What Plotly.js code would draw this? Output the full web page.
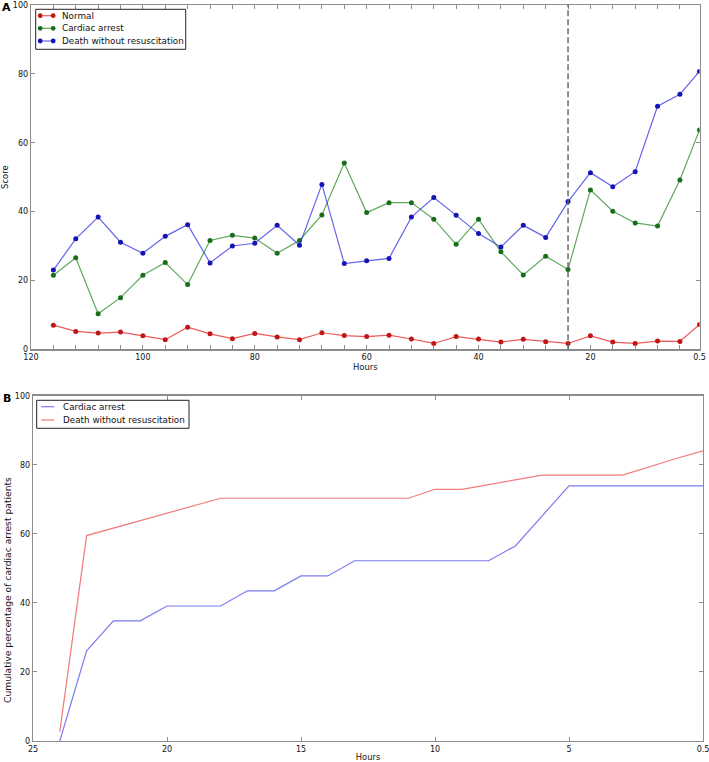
<!DOCTYPE html>
<html><head><meta charset="utf-8">
<script src="https://cdn.plot.ly/plotly-3.0.1.min.js"></script>
<style>html,body{margin:0;padding:0;background:#fff}#chart{width:709px;height:762px}</style>
</head><body><div id="chart"></div>
<script>
// ---------- Panel A data ----------
const hoursA = [116,112,108,104,100,96,92,88,84,80,76,72,68,64,60,56,52,48,44,40,36,32,28,24,20,16,12,8,4,0.5];
const normalScore = [7.0,5.2,4.7,5.0,3.9,2.8,6.4,4.5,3.1,4.6,3.6,2.8,4.8,4.0,3.7,4.1,3.0,1.7,3.7,3.0,2.1,2.9,2.2,1.7,3.9,2.1,1.7,2.4,2.3,7.2];
const arrestScore = [21.5,26.6,10.3,15.0,21.5,25.2,18.8,31.6,33.1,32.3,27.9,31.6,39.0,54.1,39.7,42.6,42.6,37.8,30.5,37.8,28.3,21.6,27.0,23.2,46.3,40.1,36.7,35.8,49.2,63.7];
const deathScore = [23.0,32.1,38.4,31.1,27.9,32.8,36.2,25.1,30.0,30.8,36.0,30.2,47.9,24.9,25.7,26.4,38.4,44.1,38.9,33.6,29.7,36.0,32.5,42.9,51.3,47.2,51.6,70.6,74.1,80.7];
const seriesNamesA = ['Normal','Cardiac arrest','Death without resuscitation'];
const cutoffHour = 24;
const xLabeledA = [120,100,80,60,40,20,0.5];

// ---------- Panel B data ----------
const hoursArrestB = [24,23,22,21,20,18,17,16,15,14,13,8,7,5,0];
const pctArrestB   = [0,26.1,34.8,34.8,39.1,39.1,43.5,43.5,47.8,47.8,52.2,52.2,56.5,73.9,73.9];
const hoursDeathB  = [24,23,18,11,10,9,6,3,1,0];
const pctDeathB    = [2.7,59.5,70.3,70.3,72.9,72.9,77.0,77.0,81.8,84.0];
const seriesNamesB = ['Cardiac arrest','Death without resuscitation'];
const xTickValsB = [25,20,15,10,5,0];
const xTickTextB = ['25','20','15','10','5','0.5'];
const yTicks = [0,20,40,60,80,100];
const yTitleB = 'Cumulative percentage of cardiac arrest patients';

// ---------- styles ----------
const W = 709, H = 762;
const px = v => v / W, py = v => 1 - v / H;
const FONT = 'DejaVu Sans, sans-serif';
const lineColA = ['rgba(230,50,50,0.8)','rgba(40,140,40,0.75)','rgba(50,50,230,0.75)'];
const mkColA = ['#c01616','#1a6e1a','#1414b4'];
const lineColB = ['#7b7bf0','#f07b7b'];

const tickValsA = [120].concat(hoursA);
const tickTextA = tickValsA.map(v => xLabeledA.includes(v) ? String(v) : '');

const ysA = [normalScore, arrestScore, deathScore];
const traces = ysA.map((ys, i) => ({
  x: hoursA, y: ys, type: 'scatter', mode: 'lines+markers', name: seriesNamesA[i],
  line: {color: lineColA[i], width: 1.2},
  marker: {color: mkColA[i], size: 5},
  xaxis: 'x', yaxis: 'y', showlegend: false
}));
traces.push({x: hoursArrestB, y: pctArrestB, type: 'scatter', mode: 'lines', name: seriesNamesB[0],
  line: {color: lineColB[0], width: 1.2}, xaxis: 'x2', yaxis: 'y2', showlegend: false});
traces.push({x: hoursDeathB, y: pctDeathB, type: 'scatter', mode: 'lines', name: seriesNamesB[1],
  line: {color: lineColB[1], width: 1.2}, xaxis: 'x2', yaxis: 'y2', showlegend: false});

const axBase = {
  showline: true, linecolor: '#8c8c8c', linewidth: 1.3, mirror: 'ticks',
  ticks: 'inside', ticklen: 4, tickwidth: 1, tickcolor: '#8c8c8c', ticklabeloverflow: 'allow',
  showgrid: false, zeroline: false, tickfont: {family: FONT, size: 8, color: '#111'}
};
const titleFont = {family: FONT, size: 8.4, color: '#111'};

const shapes = [];
const annotations = [];
// cutoff dashed line
shapes.push({type: 'line', xref: 'x', yref: 'y domain', x0: cutoffHour, x1: cutoffHour, y0: 0, y1: 1,
  line: {color: '#606060', width: 1.4, dash: '6px,3px'}});

// manual legends (matplotlib style)
function legend(box, names, cols, mcols, rowY) {
  shapes.push({type: 'rect', xref: 'paper', yref: 'paper', x0: px(box[0]), x1: px(box[1]), y0: py(box[3]), y1: py(box[2]),
    line: {color: '#222', width: 1}, fillcolor: 'white', layer: 'above'});
  names.forEach((n, i) => {
    const yy = rowY[i];
    shapes.push({type: 'line', xref: 'paper', yref: 'paper', x0: px(box[0] + 4.5), x1: px(box[0] + 17.5), y0: py(yy), y1: py(yy),
      line: {color: cols[i], width: 1.2}, layer: 'above'});
    if (mcols) {
      [box[0] + 4.5, box[0] + 17.5].forEach(cx => shapes.push({type: 'circle', xref: 'paper', yref: 'paper',
        x0: px(cx - 2.4), x1: px(cx + 2.4), y0: py(yy + 2.4), y1: py(yy - 2.4),
        fillcolor: mcols[i], line: {color: mcols[i], width: 0}, layer: 'above'}));
    }
    annotations.push({xref: 'paper', yref: 'paper', x: px(box[0] + 24.5), y: py(yy), xanchor: 'left', yanchor: 'middle',
      text: n, showarrow: false, font: {family: FONT, size: 8.8, color: '#111'}});
  });
}
legend([35.7, 185.7, 9.3, 49.3], seriesNamesA, lineColA, mkColA, [15.7, 28.3, 41]);
legend([36.7, 189, 400.3, 428.3], seriesNamesB, lineColB, null, [406.7, 420]);

annotations.push({xref: 'paper', yref: 'paper', x: px(6), y: py(7.5), text: '<b>A</b>', showarrow: false,
  xanchor: 'center', yanchor: 'middle', font: {family: FONT, size: 11, color: '#000'}});
annotations.push({xref: 'paper', yref: 'paper', x: px(7), y: py(398), text: '<b>B</b>', showarrow: false,
  xanchor: 'center', yanchor: 'middle', font: {family: FONT, size: 11, color: '#000'}});
// y-axis title of panel B (placed as in the reference, below the axis centre)
annotations.push({xref: 'paper', yref: 'paper', x: px(7), y: py(590), text: yTitleB, textangle: -90, showarrow: false,
  xanchor: 'center', yanchor: 'middle', font: {family: FONT, size: 9.2, color: '#111'}});

const layout = {
  width: W, height: H, margin: {l: 0, r: 0, t: 0, b: 0},
  paper_bgcolor: '#fff', plot_bgcolor: '#fff', showlegend: false,
  xaxis: Object.assign({}, axBase, {domain: [px(31), px(699.5)], anchor: 'y', range: [120, 0.5],
    tickmode: 'array', tickvals: tickValsA, ticktext: tickTextA,
    title: {text: 'Hours', font: titleFont, standoff: 3}}),
  yaxis: Object.assign({}, axBase, {domain: [py(349.3), py(5)], anchor: 'x', range: [0, 100],
    tickmode: 'array', tickvals: yTicks,
    title: {text: 'Score', font: titleFont, standoff: 4}}),
  xaxis2: Object.assign({}, axBase, {domain: [px(33), px(703)], anchor: 'y2', range: [25, 0],
    tickmode: 'array', tickvals: xTickValsB, ticktext: xTickTextB,
    title: {text: 'Hours', font: titleFont, standoff: 3}}),
  yaxis2: Object.assign({}, axBase, {domain: [py(741), py(395.7)], anchor: 'x2', range: [0, 100],
    tickmode: 'array', tickvals: yTicks}),
  shapes: shapes, annotations: annotations
};

Plotly.newPlot('chart', traces, layout, {staticPlot: true, displayModeBar: false});
</script>
</body></html>
